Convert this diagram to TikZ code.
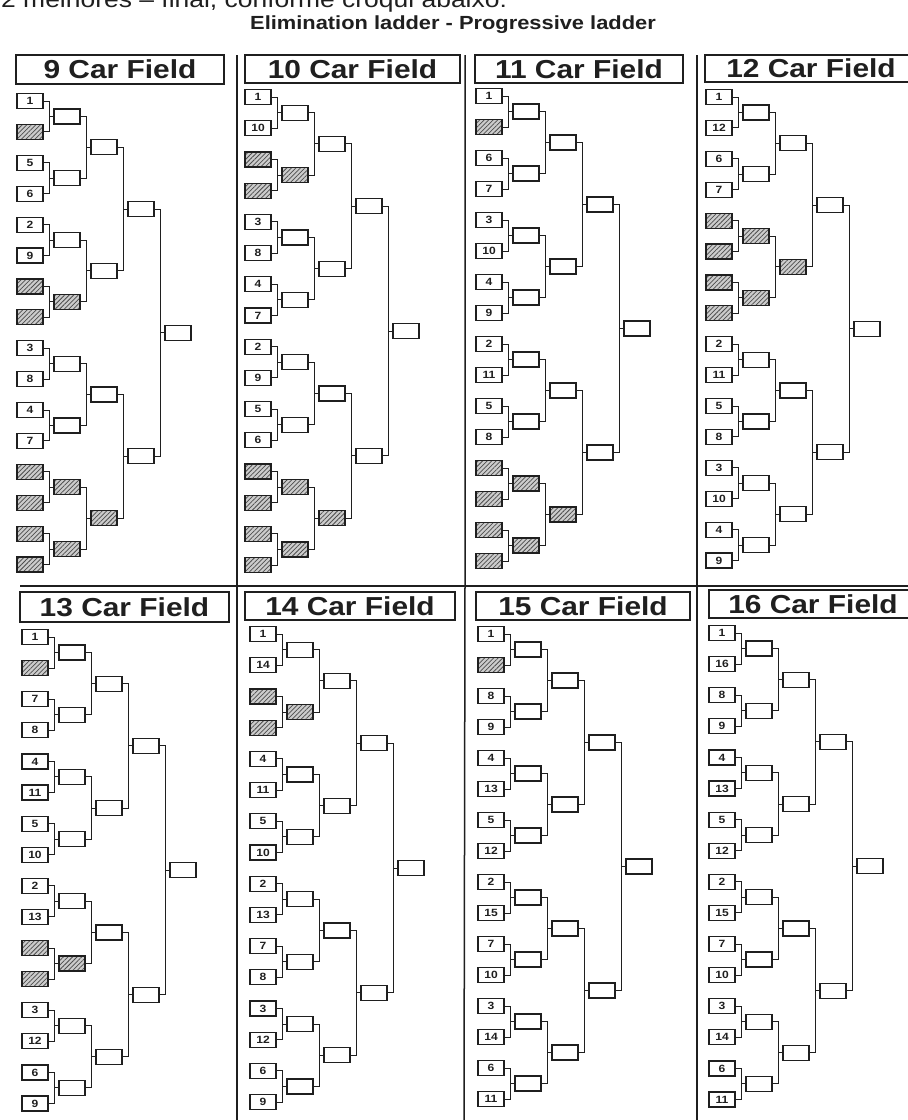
\documentclass[tikz,border=0pt]{standalone}
\usepackage{fontspec}
\setsansfont{Liberation Sans}[FakeStretch=1.15]
\renewcommand{\familydefault}{\sfdefault}
\usetikzlibrary{patterns.meta}
\newcommand{\drawpanel}[7]{%
  % #1 prefix, #2 left x of seed boxes, #3 y of first seed, #4 spacing, #5 seeds, #6 round-1 styles, #7 round-2 styles
  \foreach \sty/\lab [count=\i from 0] in {#5} {
    \node[\sty] (#1-s\i) at ({#2+13}, {#3+#4*\i}) {\lab};
  }
  \foreach \sty [count=\j from 0] in {#6} {
    \node[\sty] (#1-a\j) at ({#2+13+37}, {#3+#4*(2*\j+0.5)}) {};
    \pgfmathtruncatemacro\ia{2*\j}\pgfmathtruncatemacro\ib{2*\j+1}
    \draw[conn] (#1-s\ia.east) -- ++(6,0) |- (#1-a\j.west);
    \draw[conn] (#1-s\ib.east) -- ++(6,0) |- (#1-a\j.west);
  }
  \foreach \sty [count=\j from 0] in {#7} {
    \node[\sty] (#1-b\j) at ({#2+13+74}, {#3+#4*(4*\j+1.5)}) {};
    \pgfmathtruncatemacro\ia{2*\j}\pgfmathtruncatemacro\ib{2*\j+1}
    \draw[conn] (#1-a\ia.east) -- ++(6,0) |- (#1-b\j.west);
    \draw[conn] (#1-a\ib.east) -- ++(6,0) |- (#1-b\j.west);
  }
  \foreach \j in {0,1} {
    \node[wbox] (#1-c\j) at ({#2+13+111}, {#3+#4*(8*\j+3.5)}) {};
    \pgfmathtruncatemacro\ia{2*\j}\pgfmathtruncatemacro\ib{2*\j+1}
    \draw[conn] (#1-b\ia.east) -- ++(6,0) |- (#1-c\j.west);
    \draw[conn] (#1-b\ib.east) -- ++(6,0) |- (#1-c\j.west);
  }
  \node[wbox] (#1-d) at ({#2+13+148}, {#3+#4*7.5}) {};
  \draw[conn] (#1-c0.east) -- ++(6,0) |- (#1-d.west);
  \draw[conn] (#1-c1.east) -- ++(6,0) |- (#1-d.west);
}
\begin{document}
\begin{tikzpicture}[x=1pt,y=-1pt,
  box/.style={draw=black!88, line width=1.2pt, minimum width=26pt, minimum height=15pt, inner sep=0pt},
  seedbox/.style={box, text=black!88, font=\bfseries\fontsize{10.5}{10.5}\selectfont},
  wbox/.style={box},
  hbox/.style={box, preaction={fill=gray!40}, pattern={Lines[angle=45,distance=3.2pt,line width=0.75pt]}, pattern color=black!70},
  conn/.style={draw=black!88, line width=1pt},
  divider/.style={draw=black!88, line width=1.5pt},
  titlebox/.style={draw=black!88, line width=1.3pt, inner sep=0pt, text=black!88, font=\bfseries\fontsize{26}{26}\selectfont}]
\useasboundingbox (0,0) rectangle (908,1120);
\fill[white] (0,0) rectangle (908,1120);
\clip (0,0) rectangle (908,1120);

\node[anchor=base west, inner sep=0pt, text=black!88, font=\fontsize{23}{23}\selectfont] (note) at (1,7) {2 melhores – final, conforme croqui abaixo:};
\node[text=black!88, font=\bfseries\fontsize{19}{19}\selectfont] (heading) at (453,25) {Elimination ladder - Progressive ladder};

% dividers
\draw[divider] (20,586) -- (908,586);
\draw[divider] (237,55) -- (237,1120);
\draw[divider] (465,55) -- (465,586) -- (464,1120);
\draw[divider] (697,55) -- (697,1120);

% titles
\node[titlebox, minimum width=208pt, minimum height=29pt] (T9) at (120,69.5) {9 Car Field};
\node[titlebox, minimum width=215pt, minimum height=28pt] (T10) at (352.5,69) {10 Car Field};
\node[titlebox, minimum width=208pt, minimum height=28pt] (T11) at (579,69) {11 Car Field};
\node[titlebox, minimum width=212pt, minimum height=27pt] (T12) at (811,68.5) {12 Car Field};
\node[titlebox, minimum width=209pt, minimum height=30pt] (T13) at (124.5,607) {13 Car Field};
\node[titlebox, minimum width=210pt, minimum height=28pt] (T14) at (350,606) {14 Car Field};
\node[titlebox, minimum width=214pt, minimum height=28pt] (T15) at (583,606) {15 Car Field};
\node[titlebox, minimum width=208pt, minimum height=28pt] (T16) at (813,604) {16 Car Field};

% 9 car
\drawpanel{A}{17}{101}{30.9}
 {seedbox/1, hbox/{}, seedbox/5, seedbox/6, seedbox/2, seedbox/9, hbox/{}, hbox/{}, seedbox/3, seedbox/8, seedbox/4, seedbox/7, hbox/{}, hbox/{}, hbox/{}, hbox/{}}
 {wbox,wbox,wbox,hbox,wbox,wbox,hbox,hbox}
 {wbox,wbox,wbox,hbox}
% 10 car
\drawpanel{B}{245}{97}{31.2}
 {seedbox/1, seedbox/10, hbox/{}, hbox/{}, seedbox/3, seedbox/8, seedbox/4, seedbox/7, seedbox/2, seedbox/9, seedbox/5, seedbox/6, hbox/{}, hbox/{}, hbox/{}, hbox/{}}
 {wbox,hbox,wbox,wbox,wbox,wbox,hbox,hbox}
 {wbox,wbox,wbox,hbox}
% 11 car
\drawpanel{C}{476}{96}{31.0}
 {seedbox/1, hbox/{}, seedbox/6, seedbox/7, seedbox/3, seedbox/10, seedbox/4, seedbox/9, seedbox/2, seedbox/11, seedbox/5, seedbox/8, hbox/{}, hbox/{}, hbox/{}, hbox/{}}
 {wbox,wbox,wbox,wbox,wbox,wbox,hbox,hbox}
 {wbox,wbox,wbox,hbox}
% 12 car
\drawpanel{D}{706}{97}{30.9}
 {seedbox/1, seedbox/12, seedbox/6, seedbox/7, hbox/{}, hbox/{}, hbox/{}, hbox/{}, seedbox/2, seedbox/11, seedbox/5, seedbox/8, seedbox/3, seedbox/10, seedbox/4, seedbox/9}
 {wbox,wbox,hbox,hbox,wbox,wbox,wbox,wbox}
 {wbox,hbox,wbox,wbox}
% 13 car
\drawpanel{E}{22}{637}{31.1}
 {seedbox/1, hbox/{}, seedbox/7, seedbox/8, seedbox/4, seedbox/11, seedbox/5, seedbox/10, seedbox/2, seedbox/13, hbox/{}, hbox/{}, seedbox/3, seedbox/12, seedbox/6, seedbox/9}
 {wbox,wbox,wbox,wbox,wbox,hbox,wbox,wbox}
 {wbox,wbox,wbox,wbox}
% 14 car
\drawpanel{F}{250}{634}{31.2}
 {seedbox/1, seedbox/14, hbox/{}, hbox/{}, seedbox/4, seedbox/11, seedbox/5, seedbox/10, seedbox/2, seedbox/13, seedbox/7, seedbox/8, seedbox/3, seedbox/12, seedbox/6, seedbox/9}
 {wbox,hbox,wbox,wbox,wbox,wbox,wbox,wbox}
 {wbox,wbox,wbox,wbox}
% 15 car
\drawpanel{G}{478}{634}{31.0}
 {seedbox/1, hbox/{}, seedbox/8, seedbox/9, seedbox/4, seedbox/13, seedbox/5, seedbox/12, seedbox/2, seedbox/15, seedbox/7, seedbox/10, seedbox/3, seedbox/14, seedbox/6, seedbox/11}
 {wbox,wbox,wbox,wbox,wbox,wbox,wbox,wbox}
 {wbox,wbox,wbox,wbox}
% 16 car
\drawpanel{H}{709}{633}{31.1}
 {seedbox/1, seedbox/16, seedbox/8, seedbox/9, seedbox/4, seedbox/13, seedbox/5, seedbox/12, seedbox/2, seedbox/15, seedbox/7, seedbox/10, seedbox/3, seedbox/14, seedbox/6, seedbox/11}
 {wbox,wbox,wbox,wbox,wbox,wbox,wbox,wbox}
 {wbox,wbox,wbox,wbox}
\end{tikzpicture}
\end{document}
